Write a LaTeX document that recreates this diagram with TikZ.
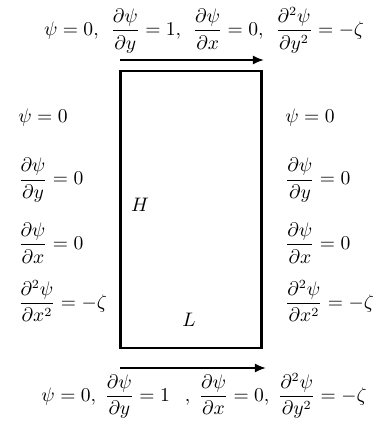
\documentclass[tikz,border=0pt]{standalone}
\usepackage{amsmath}
\usetikzlibrary{arrows.meta}

\begin{document}
\begin{tikzpicture}[
  x=0.56pt, y=-0.56pt,
  font=\fontsize{10.7}{13}\selectfont,
  paroi/.style={draw, line width=1.3pt, minimum width=79pt, minimum height=155pt, inner sep=0pt},
  cond/.style={anchor=west, inner sep=0pt},
  lig/.style={inner sep=0pt},
  fl/.style={-{Latex[length=2.2mm, width=1.8mm]}, line width=1.1pt},
]
\useasboundingbox (0,0) rectangle (380,427);
% le domaine
\node[paroi] (dom) at (191,209.5) {};
\node (H) at (140,205) {$H$};
\node (L) at (189,320) {$L$};
% conditions en haut et en bas
\node[lig] (haut) at (204,30)
  {$\psi=0,\;\,\dfrac{\partial\psi}{\partial y}=1,\;\,\dfrac{\partial\psi}{\partial x}=0,\;\,\dfrac{\partial^2\psi}{\partial y^2}=-\zeta$};
\node[lig] (bas) at (204,396)
  {$\psi=0,\;\dfrac{\partial\psi}{\partial y}=1\enspace\;,\;\dfrac{\partial\psi}{\partial x}=0,\;\dfrac{\partial^2\psi}{\partial y^2}=-\zeta$};
% parois gauche et droite
\node[cond] (g1) at (18,118) {$\psi=0$};
\node[cond] (g2) at (18,180) {$\dfrac{\partial\psi}{\partial y}=0$};
\node[cond] (g3) at (18,243) {$\dfrac{\partial\psi}{\partial x}=0$};
\node[cond] (g4) at (18,301) {$\dfrac{\partial^2\psi}{\partial x^2}=-\zeta$};
\node[cond] (d1) at (285,118) {$\psi=0$};
\node[cond] (d2) at (285,180) {$\dfrac{\partial\psi}{\partial y}=0$};
\node[cond] (d3) at (285,243) {$\dfrac{\partial\psi}{\partial x}=0$};
\node[cond] (d4) at (285,301) {$\dfrac{\partial^2\psi}{\partial x^2}=-\zeta$};
% vitesses des parois
\coordinate (hg) at (120,60);
\coordinate (hd) at (264,60);
\coordinate (bg) at (120,368);
\coordinate (bd) at (266,368);
\draw[fl] (hg) -- (hd);
\draw[fl] (bg) -- (bd);
\end{tikzpicture}
\end{document}
